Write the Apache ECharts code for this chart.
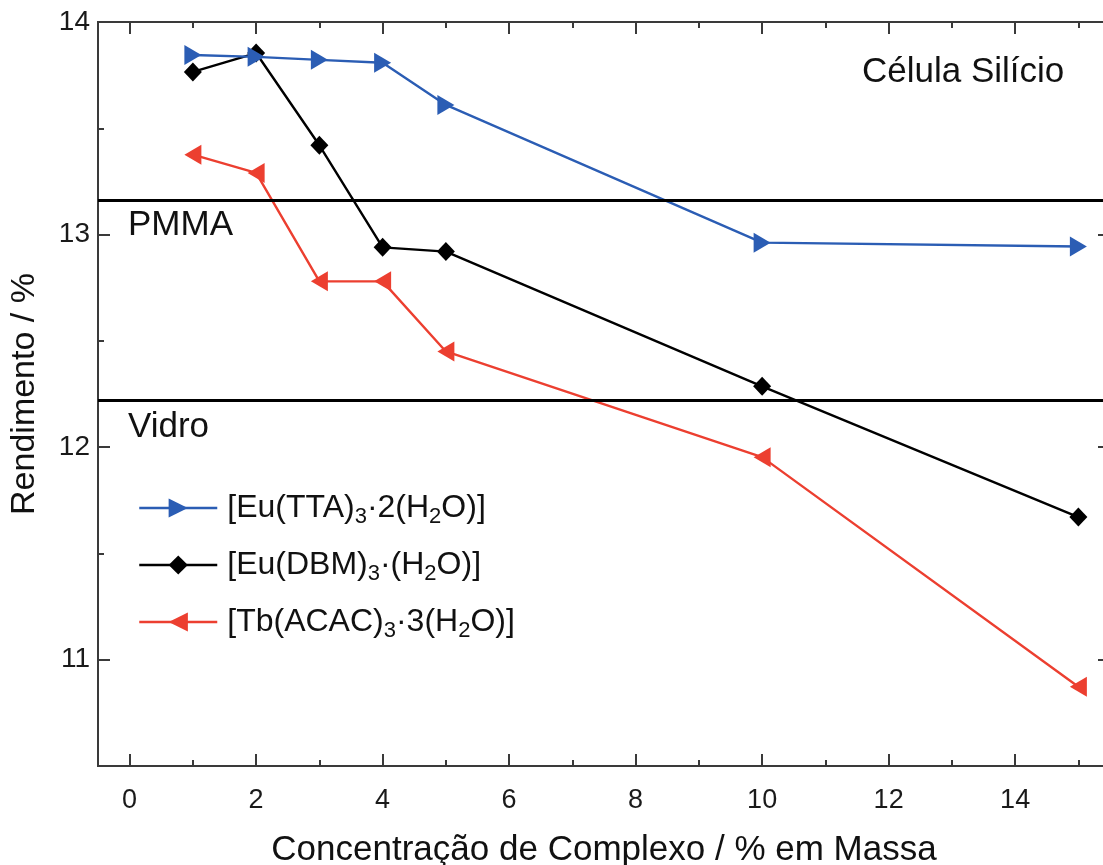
<!DOCTYPE html>
<html>
<head>
<meta charset="utf-8">
<script src="https://cdn.jsdelivr.net/npm/echarts@6/dist/echarts.min.js"></script>
<style>
  html, body { margin: 0; padding: 0; background: #fff; }
  #chart { width: 1103px; height: 865px; }
</style>
</head>
<body>
<div id="chart"></div>
<script>
// data
const concentration = [1, 2, 3, 4, 5, 10, 15];
const euTTA = [13.845, 13.836, 13.822, 13.808, 13.61, 12.962, 12.944];
const euDBM = [13.765, 13.854, 13.42, 12.94, 12.92, 12.286, 11.671];
const tbACAC = [13.376, 13.29, 12.78, 12.78, 12.45, 11.953, 10.873];
const refNames = ["PMMA", "Vidro"];
const refValues = [13.165, 12.225];
const seriesNames = ["Eu(TTA)", "Eu(DBM)", "Tb(ACAC)"];
const legendLabels = [
  "[Eu(TTA){sub|3}·2(H{sub|2}O)]",
  "[Eu(DBM){sub|3}·(H{sub|2}O)]",
  "[Tb(ACAC){sub|3}·3(H{sub|2}O)]"
];
const xMajor = [0, 2, 4, 6, 8, 10, 12, 14];
const xMinor = [1, 3, 5, 7, 9, 11, 13, 15];
const yMajor = [11, 12, 13, 14];
const yMinor = [10.5, 11.5, 12.5, 13.5];

const font = "'Liberation Sans', Arial, Helvetica, sans-serif";
const axisColor = "#3a3a3a";

function pairs(ys) {
  return concentration.map((x, i) => [x, ys[i]]);
}

function xAxisDef(position, ticks, len, labels) {
  return {
    type: "value", position: position, min: -0.5, max: 15.5,
    axisLine: { show: true, onZero: false, lineStyle: { color: axisColor, width: 2 } },
    axisTick: { show: true, inside: true, length: len, customValues: ticks, lineStyle: { color: axisColor, width: 2 } },
    axisLabel: labels
      ? { show: true, customValues: ticks, fontSize: 27, color: "#1a1a1a", fontFamily: font, margin: 21 }
      : { show: false },
    splitLine: { show: false }
  };
}

function yAxisDef(position, ticks, len, labels) {
  return {
    type: "value", position: position, min: 10.5, max: 14,
    axisLine: { show: true, onZero: false, lineStyle: { color: axisColor, width: 2 } },
    axisTick: { show: true, inside: true, length: len, customValues: ticks, lineStyle: { color: axisColor, width: 2 } },
    axisLabel: labels
      ? { show: true, customValues: ticks, fontSize: 28, color: "#1a1a1a", fontFamily: font, margin: 8 }
      : { show: false },
    splitLine: { show: false }
  };
}

const xBottom = xAxisDef("bottom", xMajor, 12, true);
xBottom.name = "Concentração de Complexo / % em Massa";
xBottom.nameLocation = "middle";
xBottom.nameGap = 67;
xBottom.nameTextStyle = { fontSize: 35, color: "#111", fontFamily: font };

const yLeft = yAxisDef("left", yMajor, 12, true);
yLeft.name = "Rendimento / %";
yLeft.nameLocation = "middle";
yLeft.nameGap = 56;
yLeft.nameTextStyle = { fontSize: 34, color: "#111", fontFamily: font };

const chart = echarts.init(document.getElementById("chart"));
chart.setOption({
  backgroundColor: "#fff",
  animation: false,
  grid: { left: 98, top: 22, width: 1012, height: 744, outerBoundsMode: "none" },
  xAxis: [
    xBottom,
    xAxisDef("bottom", xMinor, 6, false),
    xAxisDef("top", xMajor, 12, false),
    xAxisDef("top", xMinor, 6, false)
  ],
  yAxis: [
    yLeft,
    yAxisDef("left", yMinor, 6, false),
    yAxisDef("right", yMajor, 12, false),
    yAxisDef("right", yMinor, 6, false)
  ],
  legend: {
    orient: "vertical",
    left: 133,
    top: 487,
    itemWidth: 78,
    itemHeight: 24,
    itemGap: 21,
    data: seriesNames,
    lineStyle: { width: 2.5 },
    formatter: name => legendLabels[seriesNames.indexOf(name)],
    textStyle: {
      fontSize: 32, color: "#111", fontFamily: font, padding: [0, 0, 0, 5],
      rich: { sub: { fontSize: 22, fontFamily: font, color: "#111", padding: [18, 0, 0, 0] } }
    }
  },
  graphic: [
    { type: "text", left: 862, top: 55, style: { text: "Célula Silício", fontSize: 35, fill: "#111", fontFamily: font } },
    { type: "text", left: 128, top: 208, style: { text: refNames[0], fontSize: 35, fill: "#111", fontFamily: font } },
    { type: "text", left: 128, top: 410, style: { text: refNames[1], fontSize: 35, fill: "#111", fontFamily: font } }
  ],
  series: [
    {
      name: seriesNames[0], type: "line", data: pairs(euTTA),
      symbol: "triangle", symbolSize: [20, 17], symbolRotate: -90,
      lineStyle: { color: "#2b5db4", width: 2.4 }, itemStyle: { color: "#2b5db4" }, z: 4
    },
    {
      name: seriesNames[1], type: "line", data: pairs(euDBM),
      symbol: "diamond", symbolSize: [18, 19],
      lineStyle: { color: "#000", width: 2.4 }, itemStyle: { color: "#000" }, z: 3,
      markLine: {
        silent: true, symbol: "none", animation: false,
        label: { show: false },
        lineStyle: { color: "#000", width: 3, type: "solid" },
        data: refValues.map(v => ({ yAxis: v }))
      }
    },
    {
      name: seriesNames[2], type: "line", data: pairs(tbACAC),
      symbol: "triangle", symbolSize: [20, 17], symbolRotate: 90,
      lineStyle: { color: "#ec3f30", width: 2.4 }, itemStyle: { color: "#ec3f30" }, z: 2
    }
  ]
});
</script>
</body>
</html>
